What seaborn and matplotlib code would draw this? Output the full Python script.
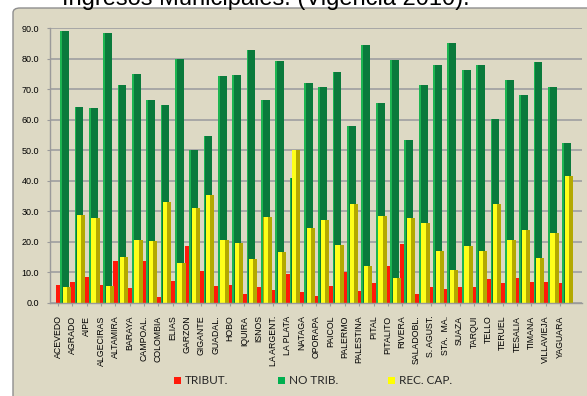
import numpy as np
import pandas as pd
import matplotlib
matplotlib.use("Agg")
import matplotlib.pyplot as plt
import seaborn as sns
from matplotlib.patches import Patch, FancyBboxPatch

# Ingresos municipales por fuente (% del total), vigencia 2010
municipios = [
    "ACEVEDO", "AGRADO", "AIPE", "ALGECIRAS", "ALTAMIRA", "BARAYA",
    "CAMPOAL.", "COLOMBIA", "ELIAS", "GARZON", "GIGANTE", "GUADAL.",
    "HOBO", "IQUIRA", "ISNOS", "LA ARGENT.", "LA PLATA", "NATAGA",
    "OPORAPA", "PAICOL", "PALERMO", "PALESTINA", "PITAL", "PITALITO",
    "RIVERA", "SALADOBL.", "S. AGUST.", "STA.  MA.", "SUAZA", "TARQUI",
    "TELLO", "TERUEL", "TESALIA", "TIMANA", "VILLAVIEJA", "YAGUARA",
]
tributarios = [
    5.9, 7.0, 8.6, 5.9, 13.7, 4.8, 13.7, 2.1, 7.2, 18.8, 10.5, 5.5,
    5.9, 2.8, 5.3, 4.2, 9.4, 3.5, 2.4, 5.5, 10.2, 3.9, 6.4, 12.2,
    19.2, 3.1, 5.3, 4.5, 5.1, 5.1, 7.8, 6.7, 8.3, 7.0, 7.0, 6.4,
]
no_tributarios = [
    89.1, 64.0, 63.8, 88.4, 71.4, 74.9, 66.5, 64.9, 79.9, 50.1, 54.8, 74.2,
    74.7, 82.9, 66.3, 79.3, 40.8, 72.0, 70.7, 75.6, 57.8, 84.3, 65.4, 79.6,
    53.4, 71.2, 78.0, 85.1, 76.4, 78.0, 60.3, 73.1, 68.2, 78.8, 70.7, 52.3,
]
recursos_capital = [
    5.3, 28.8, 27.7, 5.7, 15.2, 20.6, 20.3, 33.2, 13.0, 31.0, 35.2, 20.6,
    19.5, 14.4, 28.3, 16.8, 50.1, 24.7, 27.2, 19.0, 32.3, 12.1, 28.6, 8.3,
    27.7, 26.1, 17.0, 10.8, 18.7, 17.0, 32.3, 20.6, 23.9, 14.6, 22.8, 41.7,
]
series = ["TRIBUT.", "NO TRIB.", "REC. CAP."]
y_ticks = [0, 10, 20, 30, 40, 50, 60, 70, 80, 90]

BEIGE = "#DDD9C4"
RED = "#FF1A0A"
GREEN_DARK = "#0A7A3C"
GREEN_LIGHT = "#1DB552"
YELLOW_DARK = "#B3A900"
YELLOW_LIGHT = "#FFFF1A"

sns.set_theme(style="white")
plt.rcParams["font.family"] = ["Liberation Sans", "DejaVu Sans"]

W, H = 587, 396
fig = plt.figure(figsize=(W / 100, H / 100), dpi=100)
fig.patch.set_facecolor("white")

# beige chart frame below the title strip
frame = FancyBboxPatch((13 / W, -0.02), 1.0, 1 - 8 / H + 0.02,
                       boxstyle="round,pad=0,rounding_size=0.012",
                       transform=fig.transFigure, facecolor=BEIGE,
                       edgecolor="#8E8E8E", linewidth=1.0, zorder=-5)
fig.patches.append(frame)

fig.text(62 / W, 1 - 5 / H, "Ingresos Municipales. (Vigencia 2010).",
         fontsize=17, color="black", ha="left", va="baseline")

ax = fig.add_axes([50 / W, 93 / H, 532 / W, 275 / H])
ax.set_facecolor(BEIGE)

idx = np.arange(len(municipios))

def bars(offset, width, values, color):
    sns.barplot(x=idx + offset, y=values, native_scale=True, width=width,
                color=color, saturation=1, errorbar=None, linewidth=0,
                ax=ax)

# each cluster: tributarios, no tributarios (behind), recursos de capital (front)
bars(0.01, 0.30, tributarios, RED)
bars(0.464, 0.607, no_tributarios, GREEN_DARK)
bars(0.22, 0.12, no_tributarios, GREEN_LIGHT)
bars(0.618, 0.58, recursos_capital, YELLOW_DARK)
bars(0.48, 0.30, recursos_capital, YELLOW_LIGHT)

ax.set_xlim(-0.56, len(municipios) + 0.54)
ax.set_ylim(0, 90)
ax.set_yticks(y_ticks)
ax.set_yticklabels([f"{v:.1f}" for v in y_ticks], fontsize=6.5)
ax.set_xticks(idx)
ax.set_xticklabels(municipios, rotation=90, fontsize=6.3, va="top")
ax.set_xlabel("")
ax.set_ylabel("")

ax.yaxis.grid(True, color="#A3A3A3", linewidth=1.3)
ax.set_axisbelow(True)
for side in ("top", "right"):
    ax.spines[side].set_visible(False)
for side in ("left", "bottom"):
    ax.spines[side].set_color("#9A9A9A")
    ax.spines[side].set_linewidth(1.0)
ax.tick_params(axis="y", length=2, width=0.8, color="#9A9A9A", pad=6,
               left=True, labelcolor="black")
ax.tick_params(axis="x", length=2, width=0.8, color="#9A9A9A", pad=7,
               bottom=True, labelcolor="black")

handles = [Patch(facecolor=c, edgecolor="none") for c in (RED, "#00B050", "#FFFF00")]
fig.legend(handles, series, loc="center", bbox_to_anchor=(313 / W, 1 - 381 / H),
           ncol=3, frameon=False, handlelength=0.6,
           handleheight=0.6, handletextpad=0.35, columnspacing=4.2,
           prop={"family": ["Lato", "DejaVu Sans"], "size": 8.5})

fig.savefig("out.png", dpi=100, facecolor=fig.get_facecolor())
